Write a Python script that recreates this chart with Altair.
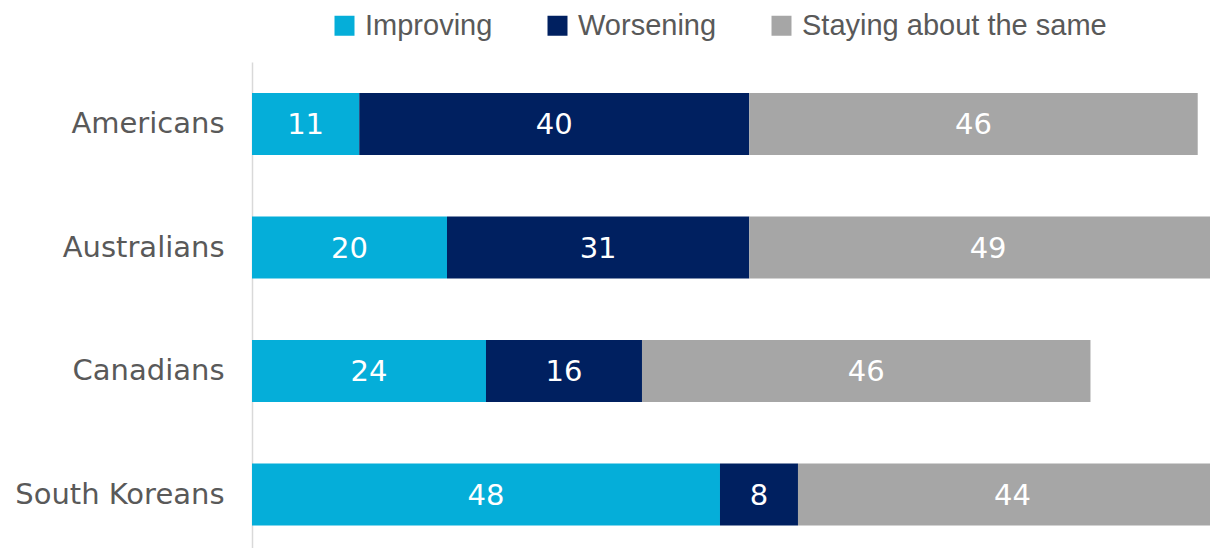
import altair as alt
import pandas as pd

countries = ["Americans", "Australians", "Canadians", "South Koreans"]
series = ["Improving", "Worsening", "Staying about the same"]
improving = [11, 20, 24, 48]
worsening = [40, 31, 16, 8]
staying = [46, 49, 46, 44]
colors = ["#05AED9", "#002060", "#A6A6A6"]

rows = []
for i, c in enumerate(countries):
    for j, (s, vals) in enumerate(zip(series, [improving, worsening, staying])):
        rows.append({"country": c, "series": s, "value": vals[i], "order": j})
df = pd.DataFrame(rows)

base = alt.Chart(df).transform_stack(
    stack="value", groupby=["country"], as_=["x0", "x1"],
    sort=[alt.SortField("order", order="ascending")]
).transform_calculate(mid="(datum.x0 + datum.x1) / 2")

yenc = alt.Y("country:N", sort=countries, title=None,
             scale=alt.Scale(paddingInner=0.498, paddingOuter=0.2166, align=0.58),
             axis=alt.Axis(ticks=False, domainColor="#D9D9D9", domainWidth=1.5,
                           labelFont="DejaVu Sans", labelFontSize=29, labelColor="#595959",
                           labelPadding=28, labelLimit=300))

xscale = alt.Scale(domain=[0, 98.26], nice=False, zero=True)

bars = base.mark_bar(clip=True).encode(
    x=alt.X("x0:Q", scale=xscale, axis=None),
    x2="x1:Q",
    y=yenc,
    color=alt.Color("series:N", sort=series,
                    scale=alt.Scale(domain=series, range=colors),
                    legend=alt.Legend(title=None, orient="none", direction="horizontal",
                                      legendX=78, legendY=-51,
                                      symbolType="square", symbolSize=400,
                                      symbolStrokeWidth=0, symbolOpacity=1,
                                      labelFont="Liberation Sans", labelFontSize=29,
                                      labelColor="#595959", labelOffset=6,
                                      columnPadding=50, labelLimit=400)),
)

labels = base.mark_text(color="white", font="DejaVu Sans", fontSize=29, baseline="middle",
                        align="center", dy=1).encode(
    x=alt.X("mid:Q", scale=xscale, axis=None),
    y=alt.Y("country:N", sort=countries),
    text="value:Q",
)

chart = (bars + labels).properties(
    width=958, height=486,
    autosize=alt.AutoSizeParams(type="none"),
    padding={"left": 244, "top": 54, "right": 0, "bottom": 0},
).configure_view(stroke=None).configure_axis(grid=False)

chart.save("out.html", embed_options={"renderer": "svg", "actions": False})
